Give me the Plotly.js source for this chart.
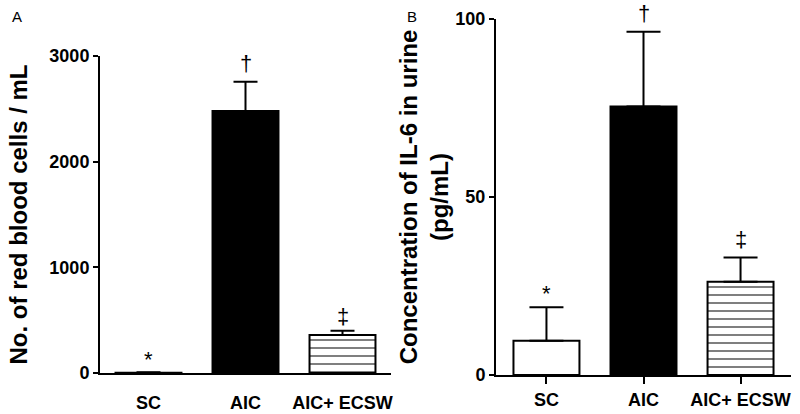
<!DOCTYPE html>
<html>
<head>
<meta charset="utf-8">
<script src="https://cdn.plot.ly/plotly-3.0.1.min.js"></script>
<style>
    html, body { margin: 0; padding: 0; background: white; }
    #chart { width: 800px; height: 414px; }
</style>
</head>
<body>
<div id="chart"></div>
<script>
// groups on the x axis
let groups = ['SC', 'AIC', 'AIC+ ECSW']

// panel A: red blood cells / mL
let rbcMean = [3, 2480, 360]
let rbcSem = [3, 277, 40]
let rbcMarks = ['*', '†', '‡']
let rbcMarkY = [130, 2930, 530]

// panel B: IL-6 in urine (pg/mL)
let il6Mean = [9.6, 75.4, 26.2]
let il6Sem = [9.4, 21, 6.8]
let il6Marks = ['*', '†', '‡']
let il6MarkY = [23, 101.5, 38]

let fontBold = 'Liberation Sans, Arial, sans-serif'
let barFill = ['white', 'black', 'white']
let barPattern = ['', '', '-']

// one trace per bar so the hatch pattern can be set on its own
function barTraces(y, sem, xa, ya, capWidth) {
    return groups.map((g, i) => {
        let marker = {
            color: barFill[i],
            line: { color: 'black', width: 2 }
        }
        if (barPattern[i]) {
            marker.pattern = { shape: barPattern[i], fgcolor: 'black', bgcolor: 'white', size: 8, solidity: 0.25, fillmode: 'overlay' }
        }
        return {
            type: 'bar',
            x: [g],
            y: [y[i]],
            xaxis: xa,
            yaxis: ya,
            width: 0.68,
            marker: marker,
            error_y: {
                type: 'data',
                symmetric: false,
                array: [sem[i]],
                arrayminus: [0],
                color: 'black',
                thickness: 2,
                width: capWidth
            },
            hoverinfo: 'skip',
            showlegend: false
        }
    })
}

let traces = [
    ...barTraces(rbcMean, rbcSem, 'x', 'y', 12),
    ...barTraces(il6Mean, il6Sem, 'x2', 'y2', 17)
]

let axisCommon = {
    showgrid: false,
    zeroline: false,
    showline: true,
    linecolor: 'black',
    linewidth: 2,
    ticks: 'outside',
    ticklen: 5,
    tickwidth: 2,
    tickcolor: 'black',
    tickfont: { family: fontBold, size: 18, color: 'black', weight: 'bold' },
    fixedrange: true
}

// significance marks, placed in axis-domain units so they are not clipped
let markFont = { family: fontBold, size: 22, color: 'black' }
let markAnnotations = []
rbcMarks.forEach((m, i) => markAnnotations.push({
    xref: 'x', yref: 'y domain', x: groups[i], y: rbcMarkY[i] / 3000, text: m,
    xanchor: 'center', yanchor: 'middle', showarrow: false, font: markFont
}))
il6Marks.forEach((m, i) => markAnnotations.push({
    xref: 'x2', yref: 'y2 domain', x: groups[i], y: il6MarkY[i] / 100, text: m,
    xanchor: 'center', yanchor: 'middle', showarrow: false, font: markFont
}))

let H = 414

let layout = {
    width: 800,
    height: H,
    margin: { t: 0, b: 0, l: 0, r: 0 },
    paper_bgcolor: 'white',
    plot_bgcolor: 'white',
    font: { family: fontBold, color: 'black' },
    barmode: 'overlay',
    xaxis: {
        ...axisCommon,
        domain: [100 / 800, 391 / 800],
        range: [-0.5, 2.5],
        ticks: '',
        ticklabelstandoff: 12,
        anchor: 'y'
    },
    yaxis: {
        ...axisCommon,
        domain: [41 / H, 358 / H],
        range: [0, 3000],
        tickvals: [0, 1000, 2000, 3000],
        anchor: 'x',
        title: {
            text: '<b>No. of red blood cells / mL</b>',
            font: { family: fontBold, size: 24, color: 'black' },
            standoff: 15
        }
    },
    xaxis2: {
        ...axisCommon,
        domain: [496 / 800, 791 / 800],
        range: [-0.52, 2.52],
        ticklen: 7,
        anchor: 'y2'
    },
    yaxis2: {
        ...axisCommon,
        domain: [39 / H, 395 / H],
        range: [0, 100],
        tickvals: [0, 50, 100],
        anchor: 'x2',
        title: {
            text: '<b>Concentration of IL-6 in urine<br>(pg/mL)</b>',
            font: { family: fontBold, size: 24, color: 'black' },
            standoff: 0
        }
    },
    annotations: [
        ...markAnnotations,
        { xref: 'paper', yref: 'paper', x: 0.012, y: 0.985, xanchor: 'left', yanchor: 'top', text: 'A', showarrow: false, font: { family: fontBold, size: 15, color: 'black' } },
        { xref: 'paper', yref: 'paper', x: 0.506, y: 0.985, xanchor: 'left', yanchor: 'top', text: 'B', showarrow: false, font: { family: fontBold, size: 15, color: 'black' } }
    ]
}

Plotly.newPlot('chart', traces, layout, { displayModeBar: false, staticPlot: true })
</script>
</body>
</html>
